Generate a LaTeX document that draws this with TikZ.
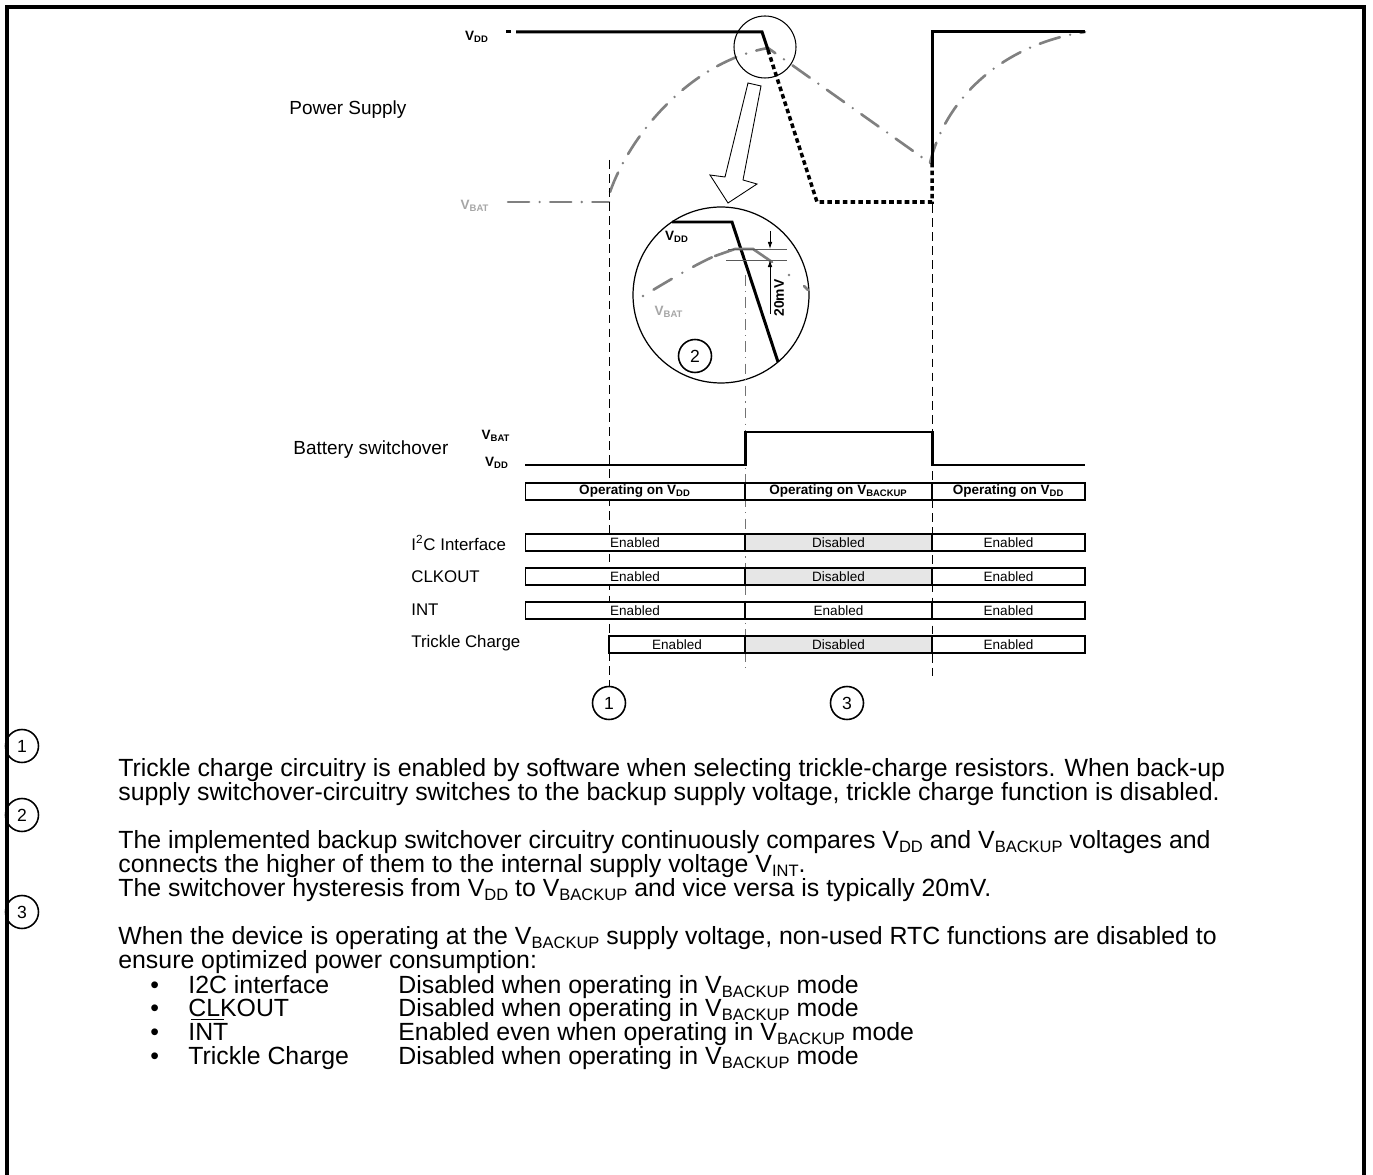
\documentclass[tikz,border=0pt]{standalone}
\usepackage{fontspec}
\setmainfont{Liberation Sans}
\usetikzlibrary{arrows.meta}
\definecolor{batgray}{HTML}{808080}
\definecolor{lblgray}{HTML}{A6A6A6}
\definecolor{offgray}{HTML}{E6E6E6}
\newcommand{\fsz}[1]{\fontsize{#1}{#1}\selectfont}
\newcommand{\bsub}[1]{\raisebox{-2.4pt}[0pt][0pt]{\fsz{9.4}#1}}
\newcommand{\ovint}{\rlap{\hspace{1.5pt}\smash{\rule[11.2pt]{19pt}{0.6pt}}}INT}

\begin{document}
\begin{tikzpicture}[
  x=0.02cm, y=-0.02cm,
  frame/.style={line width=2.3pt},
  sig/.style={line width=1.7pt},
  sigoff/.style={line width=2pt, dash pattern=on 2.6pt off 1.8pt},
  vbat/.style={draw=batgray, line width=1.5pt, line cap=round, dash pattern=on 12pt off 6pt on 0pt off 6pt},
  guide/.style={line width=0.5pt, dash pattern=on 5pt off 3pt},
  midguide/.style={line width=0.5pt, draw=black!55, dash pattern=on 6pt off 3pt on 0.6pt off 3pt},
  num/.style={circle, draw, line width=0.9pt, minimum size=0.66cm, inner sep=0pt, font=\fsz{10}},
  vlab/.style={font=\bfseries\fsz{7.7}, inner sep=0pt},
  lab/.style={font=\fsz{9.6}, inner sep=0pt, anchor=west},
  biglab/.style={lab, font=\fsz{10.8}},
  cell/.style={draw, line width=0.6pt, minimum height=0.34cm, inner sep=0pt, font=\fsz{7.7}, fill=white},
  offcell/.style={cell, fill=offgray},
  opcell/.style={cell, font=\bfseries\fsz{7.7}},
  body/.style={font=\fsz{14.15}, anchor=base west, inner sep=0pt},
]
\useasboundingbox (0,0) rectangle (1373,1175);
% frame
\draw[frame] (7,1175) -- (7,7) -- (1364,7) -- (1364,1175);

% power supply waveforms
\node[biglab] (pwr) at (289,110) {Power Supply};
\node[vlab] (vddtop) at (477,37) {V\textsubscript{DD}};
\node[vlab, text=lblgray] (vbattop) at (475,206) {V\textsubscript{BAT}};
\draw[vbat] (508,202) -- (609,202);
\draw[vbat] (610,192) .. controls (630,135) and (690,62) .. (768,48) -- (930,163)
  .. controls (945,100) and (1000,45) .. (1085,32);
\draw[sig] (506,32) -- (511,32);
\draw[sig] (516,32) -- (762,32) -- (768,50);
\draw[sigoff] (768,50) -- (817,202) -- (932,202) -- (932,163);
\draw[sig] (932,163) -- (932,32) -- (1085,32);

% guides
\draw[guide] (609,160) -- (609,686);
\draw[midguide] (745,275) -- (745,670);
\draw[guide] (932,204) -- (932,676);

% magnifier
\draw[line width=0.6pt] (765,47) circle[radius=0.62cm];
\draw[line width=0.5pt, fill=white] (748,83) -- (761,86) -- (743,180) -- (757,184)
  -- (728,203) -- (710,175) -- (725,177) -- cycle;
\draw[line width=0.7pt, fill=white] (721,295) circle[radius=1.76cm];
\draw[midguide] (745,275) -- (745,383);
\draw[sig] (672,222) -- (732,222) -- (778,362);
\draw[vbat, dash pattern=on 0pt off 7pt on 12pt off 7pt] (643,296) .. controls (668,281) and (698,263) .. (715,256);
\draw[draw=batgray, line width=1.5pt, line cap=round] (715,256) -- (735,249) -- (753,249) -- (772,262);
\fill[batgray] (789,275) circle[radius=0.8pt];
\draw[draw=batgray, line width=1.5pt, line cap=round] (804,286) -- (808,290);
\draw[draw=black!65, line width=0.5pt] (728,249) -- (787,249);
\draw[draw=black!65, line width=0.5pt] (726,260) -- (787,260);
\draw[-{Latex[length=4pt,width=2.6pt]}, line width=0.5pt] (770,231) -- (770,249);
\draw[-{Latex[length=4pt,width=2.6pt]}, line width=0.5pt] (770,314) -- (770,260);
\node[font=\bfseries\fsz{7.9}, rotate=90, inner sep=0pt] (hyst) at (779,298) {20mV};
\node[vlab] (vddzoom) at (677,237) {V\textsubscript{DD}};
\node[vlab, text=lblgray] (vbatzoom) at (669,312) {V\textsubscript{BAT}};
\node[num] (n2) at (695,356) {2};

% battery switchover
\node[biglab] (bsw) at (293,450) {Battery switchover};
\node[vlab] (swbat) at (496,436) {V\textsubscript{BAT}};
\node[vlab] (swdd) at (497,463) {V\textsubscript{DD}};
\draw[sig] (525,465) -- (745,465) -- (745,432) -- (932,432) -- (932,465) -- (1085,465);

% operating modes
\node[opcell, minimum width=4.4cm]  (op1) at (635,491.5)    {Operating on V\textsubscript{DD}};
\node[opcell, minimum width=3.74cm] (op2) at (838.5,491.5)  {Operating on V\textsubscript{BACKUP}};
\node[opcell, minimum width=3.06cm] (op3) at (1008.5,491.5) {Operating on V\textsubscript{DD}};

% function rows
\node[lab] (li2c) at (411,543) {I\textsuperscript{2}C Interface};
\node[cell, minimum width=4.4cm]     (i2ca) at (635,542.5)    {Enabled};
\node[offcell, minimum width=3.74cm] (i2cb) at (838.5,542.5)  {Disabled};
\node[cell, minimum width=3.06cm]    (i2cc) at (1008.5,542.5) {Enabled};
\node[lab] (lclk) at (411,577) {CLKOUT};
\node[cell, minimum width=4.4cm]     (clka) at (635,576.5)    {Enabled};
\node[offcell, minimum width=3.74cm] (clkb) at (838.5,576.5)  {Disabled};
\node[cell, minimum width=3.06cm]    (clkc) at (1008.5,576.5) {Enabled};
\node[lab] (lint) at (411,610) {INT};
\node[cell, minimum width=4.4cm]     (inta) at (635,610.5)    {Enabled};
\node[cell, minimum width=3.74cm]    (intb) at (838.5,610.5)  {Enabled};
\node[cell, minimum width=3.06cm]    (intc) at (1008.5,610.5) {Enabled};
\node[lab] (ltc) at (411,643) {Trickle Charge};
\node[cell, minimum width=2.72cm]    (tca) at (677,644.5)     {Enabled};
\node[offcell, minimum width=3.74cm] (tcb) at (838.5,644.5)   {Disabled};
\node[cell, minimum width=3.06cm]    (tcc) at (1008.5,644.5)  {Enabled};

\node[num] (n1) at (609,703) {1};
\node[num] (n3) at (847,703) {3};

% notes
\node[num] (k1) at (22,746) {1};
\node[body] (t1a) at (118,776) {Trickle charge circuitry is enabled by software when selecting trickle-charge resistors. When back-up};
\node[body] (t1b) at (118,800) {supply switchover-circuitry switches to the backup supply voltage, trickle charge function is disabled.};
\node[num] (k2) at (22,815) {2};
\node[body] (t2a) at (118,848) {The implemented backup switchover circuitry continuously compares V\bsub{DD} and V\bsub{BACKUP} voltages and};
\node[body] (t2b) at (118,872) {connects the higher of them to the internal supply voltage V\bsub{INT}.};
\node[body] (t2c) at (118,896) {The switchover hysteresis from V\bsub{DD} to V\bsub{BACKUP} and vice versa is typically 20mV.};
\node[num] (k3) at (22,912) {3};
\node[body] (t3a) at (118,944) {When the device is operating at the V\bsub{BACKUP} supply voltage, non-used RTC functions are disabled to};
\node[body] (t3b) at (118,968) {ensure optimized power consumption:};
\node[body] (b1) at (150,993)  {•};
\node[body] (b2) at (150,1016) {•};
\node[body] (b3) at (150,1040) {•};
\node[body] (b4) at (150,1064) {•};
\node[body] (f1) at (188,993)  {I2C interface};
\node[body] (f2) at (188,1016) {CLKOUT};
\node[body] (f3) at (188,1040) {\ovint};
\node[body] (f4) at (188,1064) {Trickle Charge};
\node[body] (d1) at (398,993)  {Disabled when operating in V\bsub{BACKUP} mode};
\node[body] (d2) at (398,1016) {Disabled when operating in V\bsub{BACKUP} mode};
\node[body] (d3) at (398,1040) {Enabled even when operating in V\bsub{BACKUP} mode};
\node[body] (d4) at (398,1064) {Disabled when operating in V\bsub{BACKUP} mode};
\end{tikzpicture}
\end{document}
